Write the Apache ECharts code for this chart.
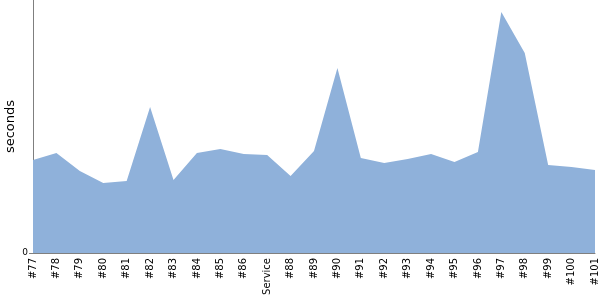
<!DOCTYPE html>
<html><head><meta charset="utf-8">
<script src="https://cdn.jsdelivr.net/npm/echarts@6/dist/echarts.min.js"></script>
<style>html,body{margin:0;padding:0;background:#fff}#c{width:600px;height:300px}</style>
</head><body><div id="c"></div>
<script>
var categories = ['#77','#78','#79','#80','#81','#82','#83','#84','#85','#86','Service','#88','#89','#90','#91','#92','#93','#94','#95','#96','#97','#98','#99','#100','#101'];
var seconds = [93,100,82,70,72,146,73,100,104,99,98,77,102,185,95,90,94,99,91,101,241,200,88,86,83];
var yTicks = [0];

var chart = echarts.init(document.getElementById('c'), null, {renderer:'canvas'});
chart.setOption({
  animation: false,
  grid: {left: 33, right: 5, top: 0, bottom: 47, containLabel: false, outerBoundsMode: 'none'},
  xAxis: {
    type: 'category', data: categories, boundaryGap: false,
    axisLine: {lineStyle: {color: '#7f7f7f', width: 1}},
    axisTick: {show: false},
    axisLabel: {rotate: 90, color: '#000', fontFamily: 'DejaVu Sans', fontSize: 10, margin: 5, interval: 0}
  },
  yAxis: {
    type: 'value', min: 0, max: 253,
    name: 'seconds', nameLocation: 'middle', nameGap: 16, nameMoveOverlap: false,
    nameTextStyle: {color: '#000', fontFamily: 'DejaVu Sans', fontSize: 13},
    axisLine: {show: true, lineStyle: {color: '#7f7f7f', width: 1}},
    axisTick: {show: true, customValues: yTicks, length: 4, lineStyle: {color: '#7f7f7f', width: 1}},
    axisLabel: {customValues: yTicks, color: '#000', fontFamily: 'DejaVu Sans', fontSize: 9, margin: 5},
    splitLine: {show: false}
  },
  series: [{
    type: 'line', data: seconds, symbol: 'none',
    lineStyle: {width: 0, color: '#8fb1da'},
    areaStyle: {color: '#8fb1da', opacity: 1}
  }]
});
</script></body></html>
